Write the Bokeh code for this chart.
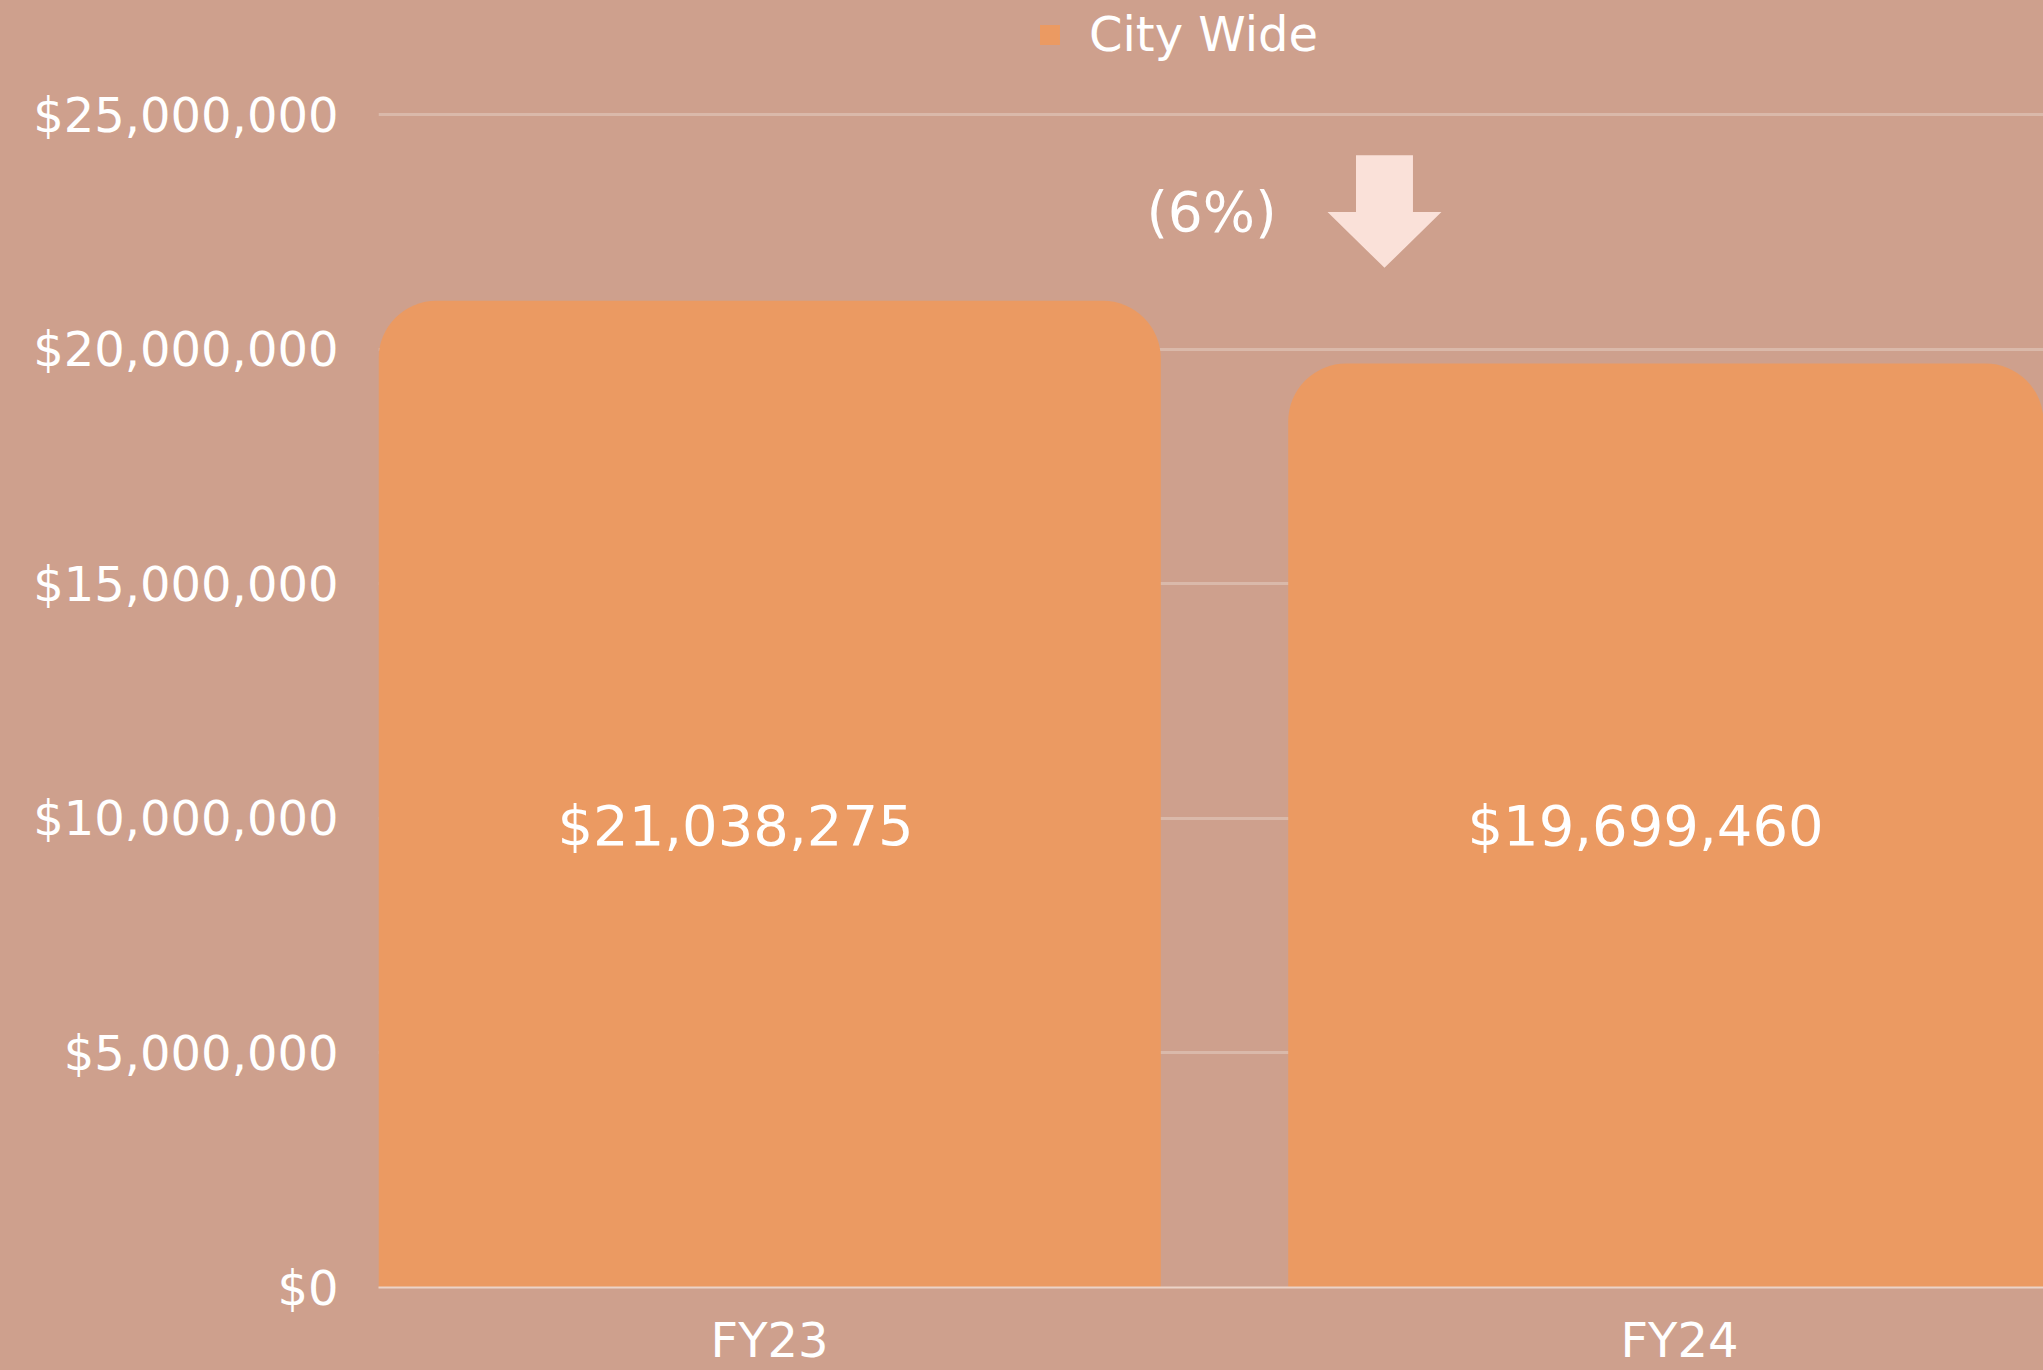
from bokeh.plotting import figure
from bokeh.models import (ColumnDataSource, Range1d, FixedTicker, NumeralTickFormatter,
                          Legend, LegendItem, LabelSet, Label, PolyAnnotation)
from bokeh.embed import file_html
from bokeh.resources import INLINE
from bokeh.core.properties import value

# ---------------- data ----------------
categories = ["FY23", "FY24"]
amounts = [21038275, 19699460]
series_name = "City Wide"
y_ticks = [0, 5000000, 10000000, 15000000, 20000000, 25000000]

# ---------------- style ----------------
BG = "#CEA08D"
BAR = "#EB9A62"
ARROW = "#FAE1D9"
GRID = "#DAB9AA"
FONT = "DejaVu Sans"

xs = [i + 0.5 for i in range(len(categories))]
labels = ["${:,}".format(v) for v in amounts]
pct = (amounts[1] - amounts[0]) / amounts[0]
pct_text = "({:.0f}%)".format(abs(pct) * 100) if pct < 0 else "{:.0f}%".format(pct * 100)

src = ColumnDataSource(dict(x=xs, top=amounts, label=labels,
                            label_y=[min(amounts) / 2] * len(amounts)))

p = figure(width=2043, height=1370, output_backend="svg", toolbar_location=None,
           x_range=Range1d(0.0703, 1.900), y_range=Range1d(0, 27440000),
           min_border_left=378, min_border_right=0, min_border_top=0, min_border_bottom=80)
p.styles = {"background-color": BG}
p.background_fill_alpha = 0
p.border_fill_alpha = 0
p.outline_line_color = None

r = p.vbar(x="x", top="top", width=0.86, source=src, fill_color=BAR, line_color=None,
           border_radius=(58, 58, 0, 0))

# grid
p.xgrid.grid_line_color = None
p.ygrid.grid_line_color = GRID
p.ygrid.grid_line_width = 3
p.ygrid.ticker = FixedTicker(ticks=y_ticks)

# y axis
p.yaxis.ticker = FixedTicker(ticks=y_ticks)
p.yaxis.formatter = NumeralTickFormatter(format="$0,0")
p.yaxis.axis_line_color = None
p.yaxis.major_tick_line_color = None
p.yaxis.minor_tick_line_color = None
p.yaxis.major_label_standoff = 34
p.yaxis.major_label_text_font = FONT
p.yaxis.major_label_text_font_size = "48px"
p.yaxis.major_label_text_color = "white"

# x axis
p.xaxis.ticker = FixedTicker(ticks=xs)
p.xaxis.major_label_overrides = {x: c for x, c in zip(xs, categories)}
p.xaxis.axis_line_color = "#EBD3C8"
p.xaxis.axis_line_width = 2
p.xaxis.major_tick_line_color = None
p.xaxis.minor_tick_line_color = None
p.xaxis.major_label_standoff = 18
p.xaxis.major_label_text_font = FONT
p.xaxis.major_label_text_font_size = "48px"
p.xaxis.major_label_text_color = "white"

# value labels
vl = LabelSet(x="x", y="label_y", text="label", source=src, x_offset=-34,
              text_align="center", text_baseline="middle", text_color="white",
              text_font=value(FONT), text_font_size="56px")
p.add_layout(vl)

# change annotation
arrow_cx, arrow_shaft_hw, arrow_head_hw = 1.1758, 0.0313, 0.0626
arrow_top, arrow_neck, arrow_tip = 24140000, 22930000, 21740000
p.add_layout(PolyAnnotation(
    xs=[arrow_cx - arrow_shaft_hw, arrow_cx + arrow_shaft_hw, arrow_cx + arrow_shaft_hw,
        arrow_cx + arrow_head_hw, arrow_cx, arrow_cx - arrow_head_hw, arrow_cx - arrow_shaft_hw],
    ys=[arrow_top, arrow_top, arrow_neck, arrow_neck, arrow_tip, arrow_neck, arrow_neck],
    fill_color=ARROW, fill_alpha=1, line_color=None))
p.add_layout(Label(x=0.9857, y=22930000, text=pct_text, text_align="center",
                   text_baseline="middle", text_color="white", text_font=FONT,
                   text_font_size="55px"))

# legend
legend = Legend(items=[LegendItem(label=series_name, renderers=[r])],
                location=(659, 1225), orientation="horizontal",
                glyph_width=25, glyph_height=25, label_standoff=27,
                padding=0, margin=0, border_line_color=None, background_fill_alpha=0,
                label_text_font=FONT, label_text_font_size="48px", label_text_color="white")
p.add_layout(legend)

html = file_html(p, INLINE)
open("out.html", "w").write(html)
